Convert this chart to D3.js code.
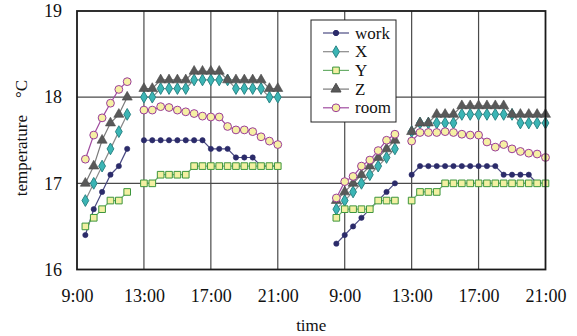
<!DOCTYPE html>
<html>
<head>
<meta charset="utf-8">
<script src="https://d3js.org/d3.v7.min.js"></script>
<style>
  body { margin: 0; background: #fff; }
  svg text { font-family: "Liberation Serif", "Times New Roman", serif !important; fill: #111; }
</style>
</head>
<body>
<div id="chart"></div>
<script>
// half-hour readings, two days; the axis squeezes the night to 4 hours
const pmTimes = ["13:00","13:30","14:00","14:30","15:00","15:30","16:00","16:30","17:00",
  "17:30","18:00","18:30","19:00","19:30","20:00","20:30","21:00"];
const times1 = ["9:30","10:00","10:30","11:00","11:30","12:00"].concat(pmTimes);
const times2 = ["8:30","9:00","9:30","10:00","10:30","11:00","11:30","12:00"].concat(pmTimes);

const work1 = [16.4,16.7,16.9,17.1,17.2,17.4, 17.5,17.5,17.5,17.5,17.5,17.5,17.5,17.5,17.4,17.4,17.4,17.3,17.3,17.3,17.2,17.2,17.2];
const x1    = [16.8,17.0,17.2,17.4,17.6,17.8, 18.0,18.0,18.1,18.1,18.1,18.1,18.2,18.2,18.2,18.2,18.2,18.1,18.1,18.1,18.1,18.0,18.0];
const y1    = [16.5,16.6,16.7,16.8,16.8,16.9, 17.0,17.0,17.1,17.1,17.1,17.1,17.2,17.2,17.2,17.2,17.2,17.2,17.2,17.2,17.2,17.2,17.2];
const z1    = [17.0,17.2,17.5,17.7,17.8,18.0, 18.1,18.1,18.2,18.2,18.2,18.2,18.3,18.3,18.3,18.3,18.2,18.2,18.2,18.2,18.2,18.1,18.1];
const room1 = [17.28,17.56,17.76,17.93,18.09,18.18, 17.85,17.85,17.89,17.88,17.85,17.83,17.81,17.78,17.77,17.77,17.66,17.62,17.62,17.60,17.54,17.49,17.45];

const work2 = [16.3,16.4,16.5,16.6,16.7,16.8,16.9,17.0, 17.1,17.2,17.2,17.2,17.2,17.2,17.2,17.2,17.2,17.2,17.2,17.1,17.1,17.1,17.1,17.0,17.0];
const x2    = [16.7,16.8,16.9,17.0,17.1,17.2,17.3,17.4, 17.6,17.7,17.7,17.7,17.7,17.7,17.8,17.8,17.8,17.8,17.8,17.8,17.8,17.7,17.7,17.7,17.7];
const y2    = [16.6,16.7,16.7,16.7,16.7,16.8,16.8,16.8, 16.8,16.9,16.9,16.9,17.0,17.0,17.0,17.0,17.0,17.0,17.0,17.0,17.0,17.0,17.0,17.0,17.0];
const z2    = [16.8,16.9,17.0,17.1,17.2,17.3,17.4,17.5, 17.6,17.7,17.7,17.8,17.8,17.8,17.9,17.9,17.9,17.9,17.9,17.9,17.8,17.8,17.8,17.8,17.8];
const room2 = [16.83,17.02,17.08,17.2,17.27,17.38,17.5,17.57, 17.49,17.59,17.59,17.59,17.60,17.59,17.57,17.56,17.56,17.48,17.42,17.45,17.40,17.37,17.35,17.34,17.30];

const seriesNames = ["work", "X", "Y", "Z", "room"];
const tickHours = [9, 13, 17, 21, 25, 29, 33, 37];
const tickLabels = ["9:00","13:00","17:00","21:00","9:00","13:00","17:00","21:00"];
const yTicks = [16, 17, 18, 19];

const styles = {
  work: { line: "#4a4a82", fill: "#2b2b6a", stroke: "#2b2b6a", shape: d3.symbolCircle, size: 22 },
  X:    { line: "#8a8a8a", fill: "#3bb5b5", stroke: "#2a8585", shape: d3.symbolDiamond, size: 40 },
  Y:    { line: "#6aae6a", fill: "#f3f0a2", stroke: "#3d963d", shape: d3.symbolSquare, size: 44 },
  Z:    { line: "#7a7a7a", fill: "#595959", stroke: "#4a4a4a", shape: d3.symbolTriangle, size: 44 },
  room: { line: "#a04ca0", fill: "#f6f0a4", stroke: "#9a3c9a", shape: d3.symbolCircle, size: 48 }
};

const W = 577, H = 336;
const plot = { left: 77, right: 545.5, top: 11, bottom: 269.5 };

const svg = d3.select("#chart").append("svg").attr("width", W).attr("height", H);

const x = d3.scaleLinear().domain([9, 37]).range([plot.left, plot.right]);
const y = d3.scaleLinear().domain([16, 19]).range([plot.bottom, plot.top]);

function toHour(t, day) {
  const [h, m] = t.split(":").map(Number);
  return h + m / 60 + (day === 2 ? 16 : 0);
}

// grid
svg.append("g").selectAll("line").data(yTicks.slice(1, -1)).join("line")
  .attr("x1", plot.left).attr("x2", plot.right)
  .attr("y1", d => y(d)).attr("y2", d => y(d))
  .attr("stroke", "#4a4a4a").attr("stroke-width", 1.2);
svg.append("g").selectAll("line").data(tickHours.slice(1, -1)).join("line")
  .attr("x1", d => x(d)).attr("x2", d => x(d))
  .attr("y1", plot.top).attr("y2", plot.bottom)
  .attr("stroke", "#4a4a4a").attr("stroke-width", 1.2);

// axes labels
const xAxis = d3.axisBottom(x).tickValues(tickHours).tickFormat((d, i) => tickLabels[i]).tickSize(0).tickPadding(20);
svg.append("g").attr("transform", `translate(0,${plot.bottom})`).call(xAxis)
  .attr("font-family", null).attr("font-size", null)
  .call(g => g.select(".domain").remove())
  .selectAll("text").style("font-size", "18px");

const yAxis = d3.axisLeft(y).tickValues(yTicks).tickFormat(d3.format("d")).tickSize(0).tickPadding(15);
svg.append("g").attr("transform", `translate(${plot.left},0)`).call(yAxis)
  .attr("font-family", null).attr("font-size", null)
  .call(g => g.select(".domain").remove())
  .selectAll("text").style("font-size", "18px");

svg.append("text").attr("x", (plot.left + plot.right) / 2).attr("y", 331)
  .attr("text-anchor", "middle").style("font-size", "17px").text("time");
svg.append("text").attr("transform", "translate(27,138) rotate(-90)")
  .attr("text-anchor", "middle").style("font-size", "17px").style("white-space", "pre")
  .text("temperature    \u00b0C");

// series
const allSeries = {
  work: [work1, work2], X: [x1, x2], Y: [y1, y2], Z: [z1, z2], room: [room1, room2]
};
const dayTimes = [times1, times2];

const line = d3.line().x(d => x(d.h)).y(d => y(d.v));

seriesNames.forEach(name => {
  const st = styles[name];
  const g = svg.append("g");
  allSeries[name].forEach((vals, di) => {
    const pts = dayTimes[di].map((t, i) => ({ h: toHour(t, di + 1), v: vals[i] }));
    // split at the lunch gap
    const parts = [[]];
    pts.forEach((p, i) => {
      if (i > 0 && p.h - pts[i - 1].h > 0.6) parts.push([]);
      parts[parts.length - 1].push(p);
    });
    parts.forEach(part => {
      g.append("path").datum(part).attr("d", line)
        .attr("fill", "none").attr("stroke", st.line).attr("stroke-width", 1.2);
    });
    g.selectAll(null).data(pts).join("path")
      .attr("transform", d => `translate(${x(d.h)},${y(d.v)})`)
      .attr("d", d3.symbol().type(st.shape).size(st.size))
      .attr("fill", st.fill).attr("stroke", st.stroke).attr("stroke-width", name === "work" || name === "Z" ? 0.6 : 1);
  });
});

// frame
svg.append("rect").attr("x", plot.left).attr("y", plot.top)
  .attr("width", plot.right - plot.left).attr("height", plot.bottom - plot.top)
  .attr("fill", "none").attr("stroke", "#1a1a1a").attr("stroke-width", 1.8);

// legend
const lg = svg.append("g");
lg.append("rect").attr("x", 311).attr("y", 20).attr("width", 85).attr("height", 102)
  .attr("fill", "#fff").attr("stroke", "#222").attr("stroke-width", 1);
seriesNames.forEach((name, i) => {
  const st = styles[name];
  const ly = 33 + i * 18.7;
  lg.append("line").attr("x1", 323).attr("x2", 349).attr("y1", ly).attr("y2", ly)
    .attr("stroke", st.line).attr("stroke-width", 1.2);
  lg.append("path").attr("transform", `translate(336,${ly})`)
    .attr("d", d3.symbol().type(st.shape).size(st.size))
    .attr("fill", st.fill).attr("stroke", st.stroke).attr("stroke-width", 1);
  lg.append("text").attr("x", 355).attr("y", ly + 5.5).style("font-size", "17px").text(name);
});
</script>
</body>
</html>
